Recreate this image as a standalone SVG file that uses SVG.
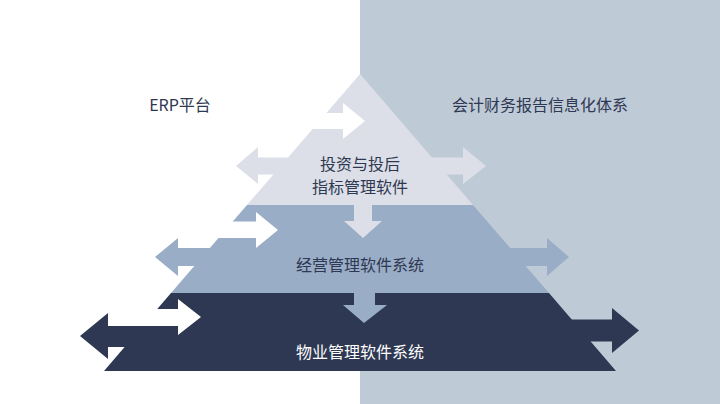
<svg xmlns="http://www.w3.org/2000/svg" width="720" height="404" viewBox="0 0 720 404">
<style>
.lbl{font-family:"Noto Sans CJK SC","Noto Sans",sans-serif;font-size:16px;fill:#2E3852;text-anchor:middle}
.wht{fill:#FFFFFF}
.t1{fill:#DCDFE7}
.t2{fill:#9AADC6}
.t3{fill:#2E3852}
</style>
<rect x="0" y="0" width="720" height="404" fill="#FFFFFF"/>
<rect x="360" y="0" width="360" height="404" fill="#BFCAD7"/>
<g id="side-labels">
<g id="erp"><text class="lbl" x="180" y="111">ERP平台</text></g>
<g id="accounting"><text class="lbl" x="540" y="111">会计财务报告信息化体系</text></g>
</g>
<g id="tier-top">
<polygon class="t1" points="360,74 473,205 247,205"/>
</g>
<g id="tier-middle">
<polygon class="t2" points="247,205 473,205 549,293 171,293"/>
</g>
<g id="tier-bottom">
<polygon class="t3" points="171,293 549,293 616,371 104,371"/>
</g>
<g id="connectors">
<!-- top tier double arrow -->
<polygon class="t1" points="236,166 258,147 258,157.5 463,157.5 463,147 486,166 463,184 463,174.5 258,174.5 258,184"/>
<!-- middle tier double arrow -->
<polygon class="t2" points="155,257 178,238 178,248 547,248 547,238 569,257 547,276 547,266 178,266 178,276"/>
<!-- bottom tier left arrow -->
<polygon class="t3" points="80,336 108,313 108,326 362,326 362,347 108,347 108,359"/>
<!-- bottom tier right arrow -->
<polygon class="t3" points="639,330.5 612,308 612,319.5 360,319.5 360,341.5 612,341.5 612,353"/>
<!-- down arrows -->
<polygon class="t1" points="354,200 372,200 372,221 382,221 363,238 344,221 354,221"/>
<polygon class="t2" points="354,288 375,288 375,305 387,305 364,323 343,305 354,305"/>
<!-- white arrows -->
<polygon class="wht" points="300,113 343,113 343,103 365,121 343,139 343,129 300,129"/>
<polygon class="wht" points="190,221.5 256,221.5 256,212 278,230 256,248 256,238 190,238"/>
<polygon class="wht" points="112,309 178,309 178,299 201,317 178,335 178,326 112,326"/>
</g>
<g id="tier-labels">
<g id="label-top"><text class="lbl" x="360" y="169.5">投资与投后</text><text class="lbl" x="360" y="192.5">指标管理软件</text></g>
<g id="label-middle"><text class="lbl" x="360" y="271">经营管理软件系统</text></g>
<g id="label-bottom"><text class="lbl" x="360" y="358" style="fill:#FFFFFF">物业管理软件系统</text></g>
</g>
</svg>
